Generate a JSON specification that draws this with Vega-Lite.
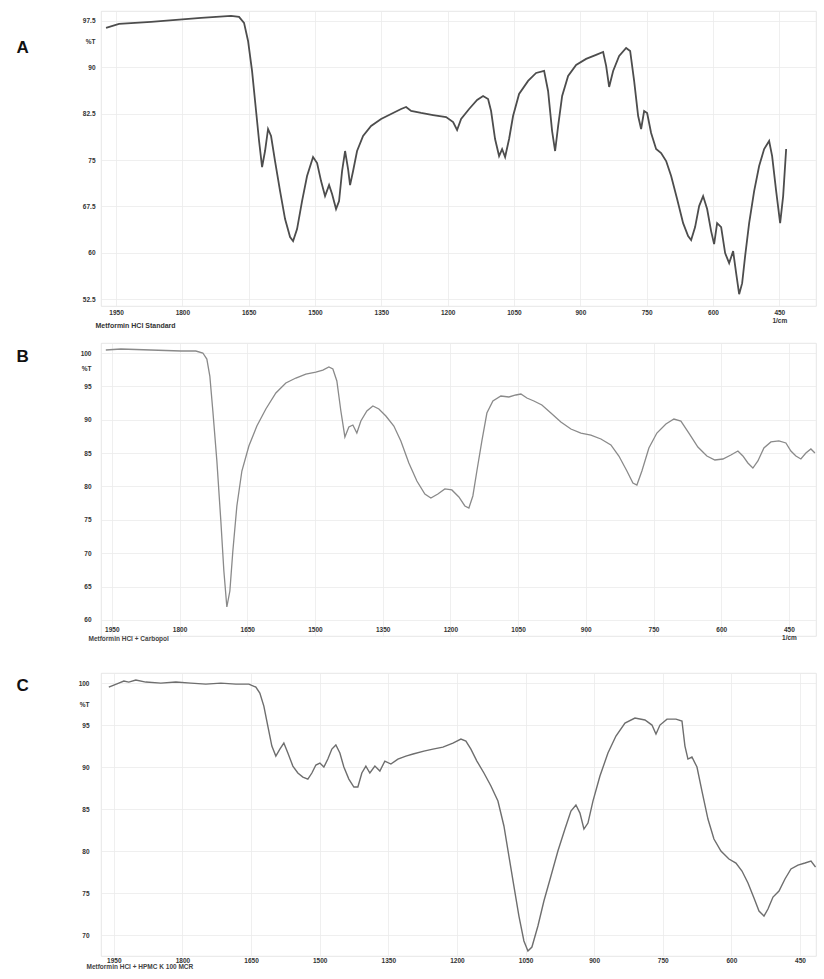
{
  "$schema": "https://vega.github.io/schema/vega-lite/v6.json",
  "background": "white",
  "padding": {"left": 15, "top": 10, "right": 5, "bottom": 5},
  "bounds": "flush",
  "spacing": 37,
  "config": {
    "font": "Liberation Sans",
    "view": {"stroke": "#e0e0e0", "strokeWidth": 0.8},
    "axis": {
      "ticks": false,
      "domain": false,
      "gridColor": "#ebebeb",
      "gridWidth": 0.8,
      "labelFontSize": 6.5,
      "labelColor": "#333333",
      "labelFontWeight": "bold"
    }
  },
  "datasets": {
    "a": [
      {"wn": 1972.6, "t": 96.37}, {"wn": 1943.2, "t": 97.01}, {"wn": 1870.8, "t": 97.34}, {"wn": 1757.7, "t": 97.99},
      {"wn": 1689.9, "t": 98.31}, {"wn": 1671.8, "t": 98.15}, {"wn": 1660.5, "t": 97.18}, {"wn": 1651.4, "t": 94.26},
      {"wn": 1642.4, "t": 89.41}, {"wn": 1633.3, "t": 82.93}, {"wn": 1626.5, "t": 78.08}, {"wn": 1619.7, "t": 73.87},
      {"wn": 1613.0, "t": 76.46}, {"wn": 1606.2, "t": 80.02}, {"wn": 1599.4, "t": 78.89}, {"wn": 1590.4, "t": 74.84},
      {"wn": 1579.0, "t": 69.98}, {"wn": 1567.7, "t": 65.45}, {"wn": 1556.4, "t": 62.54}, {"wn": 1549.6, "t": 61.89},
      {"wn": 1540.6, "t": 63.83}, {"wn": 1529.3, "t": 68.36}, {"wn": 1518.0, "t": 72.41}, {"wn": 1504.4, "t": 75.49},
      {"wn": 1495.3, "t": 74.52}, {"wn": 1486.3, "t": 71.6}, {"wn": 1477.3, "t": 69.17}, {"wn": 1468.2, "t": 70.95},
      {"wn": 1461.4, "t": 69.5}, {"wn": 1452.4, "t": 67.07}, {"wn": 1445.6, "t": 68.36}, {"wn": 1438.8, "t": 73.22},
      {"wn": 1432.0, "t": 76.46}, {"wn": 1425.2, "t": 73.54}, {"wn": 1420.7, "t": 70.95}, {"wn": 1413.9, "t": 73.22},
      {"wn": 1404.9, "t": 76.46}, {"wn": 1391.3, "t": 78.89}, {"wn": 1373.2, "t": 80.5}, {"wn": 1350.6, "t": 81.64},
      {"wn": 1328.0, "t": 82.45}, {"wn": 1305.3, "t": 83.26}, {"wn": 1294.0, "t": 83.58}, {"wn": 1282.7, "t": 82.93},
      {"wn": 1260.1, "t": 82.61}, {"wn": 1232.9, "t": 82.28}, {"wn": 1203.5, "t": 81.96}, {"wn": 1187.7, "t": 81.15},
      {"wn": 1178.7, "t": 79.86}, {"wn": 1169.6, "t": 81.64}, {"wn": 1151.5, "t": 83.26}, {"wn": 1133.4, "t": 84.71},
      {"wn": 1119.9, "t": 85.36}, {"wn": 1108.6, "t": 84.87}, {"wn": 1101.8, "t": 82.93}, {"wn": 1092.8, "t": 78.4},
      {"wn": 1083.7, "t": 75.65}, {"wn": 1076.9, "t": 76.78}, {"wn": 1070.1, "t": 75.49}, {"wn": 1061.1, "t": 78.4},
      {"wn": 1052.1, "t": 82.12}, {"wn": 1038.5, "t": 85.68}, {"wn": 1018.1, "t": 87.79}, {"wn": 1000.0, "t": 89.08},
      {"wn": 981.9, "t": 89.41}, {"wn": 972.9, "t": 86.17}, {"wn": 963.8, "t": 79.69}, {"wn": 957.0, "t": 76.46},
      {"wn": 950.2, "t": 80.5}, {"wn": 941.1, "t": 85.36}, {"wn": 927.6, "t": 88.6}, {"wn": 909.5, "t": 90.38},
      {"wn": 886.9, "t": 91.35}, {"wn": 864.3, "t": 92.0}, {"wn": 848.4, "t": 92.48}, {"wn": 841.6, "t": 90.22},
      {"wn": 834.8, "t": 86.82}, {"wn": 825.8, "t": 89.41}, {"wn": 812.2, "t": 91.83}, {"wn": 796.4, "t": 93.13},
      {"wn": 787.3, "t": 92.64}, {"wn": 778.3, "t": 87.79}, {"wn": 769.2, "t": 82.12}, {"wn": 762.5, "t": 80.02},
      {"wn": 755.7, "t": 82.93}, {"wn": 748.9, "t": 82.61}, {"wn": 739.9, "t": 79.37}, {"wn": 728.6, "t": 76.78},
      {"wn": 717.3, "t": 76.14}, {"wn": 705.9, "t": 74.84}, {"wn": 694.6, "t": 72.41}, {"wn": 681.1, "t": 68.69},
      {"wn": 667.5, "t": 64.8}, {"wn": 656.2, "t": 62.7}, {"wn": 649.4, "t": 62.05}, {"wn": 640.4, "t": 64.16},
      {"wn": 631.3, "t": 67.55}, {"wn": 622.3, "t": 69.17}, {"wn": 613.2, "t": 67.07}, {"wn": 604.2, "t": 63.51},
      {"wn": 597.4, "t": 61.4}, {"wn": 590.6, "t": 64.8}, {"wn": 581.5, "t": 64.16}, {"wn": 572.5, "t": 59.95},
      {"wn": 563.4, "t": 58.33}, {"wn": 554.4, "t": 60.27}, {"wn": 547.6, "t": 56.71}, {"wn": 540.8, "t": 53.31},
      {"wn": 534.0, "t": 55.09}, {"wn": 527.3, "t": 59.46}, {"wn": 518.2, "t": 64.8}, {"wn": 506.9, "t": 69.98},
      {"wn": 495.6, "t": 74.03}, {"wn": 484.3, "t": 76.78}, {"wn": 473.0, "t": 78.08}, {"wn": 466.2, "t": 75.65},
      {"wn": 457.1, "t": 69.98}, {"wn": 448.1, "t": 64.8}, {"wn": 441.3, "t": 69.17}, {"wn": 434.5, "t": 76.78}
    ],
    "b": [
      {"wn": 1963.3, "t": 100.45}, {"wn": 1930.1, "t": 100.6}, {"wn": 1863.6, "t": 100.45}, {"wn": 1797.1, "t": 100.3},
      {"wn": 1763.9, "t": 100.3}, {"wn": 1748.4, "t": 100.0}, {"wn": 1739.5, "t": 99.1}, {"wn": 1732.9, "t": 96.55},
      {"wn": 1726.2, "t": 91.31}, {"wn": 1717.3, "t": 83.82}, {"wn": 1708.5, "t": 74.83}, {"wn": 1701.8, "t": 67.34},
      {"wn": 1695.2, "t": 61.95}, {"wn": 1688.5, "t": 64.34}, {"wn": 1681.9, "t": 70.34}, {"wn": 1673.0, "t": 77.08},
      {"wn": 1661.9, "t": 82.32}, {"wn": 1646.4, "t": 86.07}, {"wn": 1628.7, "t": 89.06}, {"wn": 1608.8, "t": 91.61},
      {"wn": 1586.6, "t": 94.01}, {"wn": 1564.5, "t": 95.51}, {"wn": 1542.3, "t": 96.25}, {"wn": 1520.2, "t": 96.85},
      {"wn": 1498.0, "t": 97.15}, {"wn": 1482.5, "t": 97.45}, {"wn": 1469.2, "t": 97.9}, {"wn": 1460.3, "t": 97.6},
      {"wn": 1451.5, "t": 95.81}, {"wn": 1442.6, "t": 91.31}, {"wn": 1433.7, "t": 87.42}, {"wn": 1424.9, "t": 88.91},
      {"wn": 1416.0, "t": 89.21}, {"wn": 1407.2, "t": 88.01}, {"wn": 1398.3, "t": 89.81}, {"wn": 1385.0, "t": 91.31},
      {"wn": 1371.7, "t": 92.06}, {"wn": 1358.4, "t": 91.61}, {"wn": 1342.9, "t": 90.56}, {"wn": 1325.2, "t": 89.06},
      {"wn": 1309.7, "t": 86.82}, {"wn": 1292.0, "t": 83.52}, {"wn": 1274.2, "t": 80.82}, {"wn": 1256.5, "t": 78.88},
      {"wn": 1243.2, "t": 78.28}, {"wn": 1227.7, "t": 78.88}, {"wn": 1212.2, "t": 79.63}, {"wn": 1196.7, "t": 79.48},
      {"wn": 1181.2, "t": 78.43}, {"wn": 1167.9, "t": 77.08}, {"wn": 1159.0, "t": 76.78}, {"wn": 1150.2, "t": 78.58},
      {"wn": 1141.3, "t": 82.32}, {"wn": 1130.2, "t": 86.82}, {"wn": 1119.1, "t": 91.01}, {"wn": 1105.8, "t": 92.81},
      {"wn": 1088.1, "t": 93.56}, {"wn": 1070.4, "t": 93.41}, {"wn": 1054.9, "t": 93.71}, {"wn": 1043.8, "t": 93.86},
      {"wn": 1030.5, "t": 93.26}, {"wn": 1015.0, "t": 92.81}, {"wn": 997.3, "t": 92.21}, {"wn": 977.3, "t": 91.01},
      {"wn": 955.2, "t": 89.66}, {"wn": 933.0, "t": 88.61}, {"wn": 910.8, "t": 88.01}, {"wn": 888.7, "t": 87.71},
      {"wn": 866.5, "t": 87.12}, {"wn": 844.4, "t": 86.22}, {"wn": 826.7, "t": 84.57}, {"wn": 808.9, "t": 82.32},
      {"wn": 795.6, "t": 80.52}, {"wn": 786.8, "t": 80.22}, {"wn": 775.7, "t": 82.32}, {"wn": 760.2, "t": 85.77},
      {"wn": 742.5, "t": 88.01}, {"wn": 722.5, "t": 89.36}, {"wn": 704.8, "t": 90.11}, {"wn": 689.3, "t": 89.81},
      {"wn": 671.6, "t": 88.01}, {"wn": 651.7, "t": 85.92}, {"wn": 631.7, "t": 84.57}, {"wn": 614.0, "t": 83.97},
      {"wn": 596.3, "t": 84.12}, {"wn": 578.6, "t": 84.72}, {"wn": 563.0, "t": 85.32}, {"wn": 552.0, "t": 84.57},
      {"wn": 540.9, "t": 83.52}, {"wn": 529.8, "t": 82.77}, {"wn": 518.7, "t": 83.82}, {"wn": 505.4, "t": 85.77},
      {"wn": 489.9, "t": 86.67}, {"wn": 472.2, "t": 86.82}, {"wn": 456.7, "t": 86.52}, {"wn": 445.6, "t": 85.32},
      {"wn": 434.5, "t": 84.57}, {"wn": 423.5, "t": 84.12}, {"wn": 412.4, "t": 85.02}, {"wn": 401.3, "t": 85.62},
      {"wn": 392.4, "t": 85.02}
    ],
    "c": [
      {"wn": 1960.9, "t": 99.52}, {"wn": 1950.0, "t": 99.76}, {"wn": 1939.1, "t": 100.0}, {"wn": 1928.1, "t": 100.24},
      {"wn": 1917.2, "t": 100.12}, {"wn": 1901.9, "t": 100.36}, {"wn": 1880.0, "t": 100.12}, {"wn": 1847.2, "t": 100.0},
      {"wn": 1814.4, "t": 100.12}, {"wn": 1781.6, "t": 100.0}, {"wn": 1748.8, "t": 99.88}, {"wn": 1716.0, "t": 100.0},
      {"wn": 1683.2, "t": 99.88}, {"wn": 1654.8, "t": 99.88}, {"wn": 1639.5, "t": 99.52}, {"wn": 1630.8, "t": 98.81},
      {"wn": 1622.0, "t": 97.26}, {"wn": 1613.3, "t": 94.88}, {"wn": 1604.5, "t": 92.5}, {"wn": 1595.8, "t": 91.31},
      {"wn": 1587.0, "t": 92.14}, {"wn": 1578.3, "t": 92.86}, {"wn": 1569.5, "t": 91.67}, {"wn": 1558.6, "t": 90.12},
      {"wn": 1547.7, "t": 89.29}, {"wn": 1536.7, "t": 88.81}, {"wn": 1525.8, "t": 88.57}, {"wn": 1517.0, "t": 89.29},
      {"wn": 1508.3, "t": 90.24}, {"wn": 1499.5, "t": 90.48}, {"wn": 1490.8, "t": 90.0}, {"wn": 1482.1, "t": 90.95},
      {"wn": 1473.3, "t": 92.14}, {"wn": 1464.6, "t": 92.62}, {"wn": 1455.8, "t": 91.67}, {"wn": 1447.1, "t": 90.0},
      {"wn": 1436.2, "t": 88.57}, {"wn": 1425.2, "t": 87.62}, {"wn": 1416.5, "t": 87.62}, {"wn": 1407.8, "t": 89.29},
      {"wn": 1399.0, "t": 90.12}, {"wn": 1390.3, "t": 89.29}, {"wn": 1379.3, "t": 90.12}, {"wn": 1368.4, "t": 89.52},
      {"wn": 1357.5, "t": 90.71}, {"wn": 1344.3, "t": 90.36}, {"wn": 1329.0, "t": 90.95}, {"wn": 1311.5, "t": 91.31},
      {"wn": 1295.8, "t": 91.55}, {"wn": 1272.2, "t": 91.9}, {"wn": 1252.5, "t": 92.14}, {"wn": 1230.6, "t": 92.38},
      {"wn": 1208.7, "t": 92.86}, {"wn": 1191.2, "t": 93.33}, {"wn": 1180.3, "t": 93.1}, {"wn": 1169.4, "t": 92.14},
      {"wn": 1156.3, "t": 90.71}, {"wn": 1140.9, "t": 89.29}, {"wn": 1125.6, "t": 87.74}, {"wn": 1110.3, "t": 85.95},
      {"wn": 1097.2, "t": 82.98}, {"wn": 1086.3, "t": 79.4}, {"wn": 1075.4, "t": 75.83}, {"wn": 1064.4, "t": 72.26},
      {"wn": 1053.5, "t": 69.29}, {"wn": 1044.7, "t": 68.1}, {"wn": 1036.0, "t": 68.57}, {"wn": 1022.9, "t": 71.07},
      {"wn": 1009.8, "t": 74.05}, {"wn": 994.4, "t": 77.02}, {"wn": 979.2, "t": 80.0}, {"wn": 963.8, "t": 82.62},
      {"wn": 950.7, "t": 84.76}, {"wn": 939.8, "t": 85.48}, {"wn": 931.0, "t": 84.52}, {"wn": 922.3, "t": 82.62},
      {"wn": 913.5, "t": 83.33}, {"wn": 902.6, "t": 85.95}, {"wn": 887.3, "t": 88.93}, {"wn": 869.8, "t": 91.67},
      {"wn": 852.3, "t": 93.69}, {"wn": 832.6, "t": 95.24}, {"wn": 810.8, "t": 95.83}, {"wn": 788.9, "t": 95.6},
      {"wn": 773.6, "t": 95.0}, {"wn": 764.8, "t": 93.93}, {"wn": 756.1, "t": 95.0}, {"wn": 740.8, "t": 95.71},
      {"wn": 721.1, "t": 95.71}, {"wn": 708.0, "t": 95.48}, {"wn": 701.5, "t": 92.5}, {"wn": 694.9, "t": 90.95},
      {"wn": 686.2, "t": 91.19}, {"wn": 675.2, "t": 90.0}, {"wn": 664.3, "t": 87.14}, {"wn": 651.2, "t": 83.81},
      {"wn": 638.1, "t": 81.43}, {"wn": 622.8, "t": 80.0}, {"wn": 605.3, "t": 79.05}, {"wn": 590.0, "t": 78.57},
      {"wn": 576.8, "t": 77.62}, {"wn": 563.7, "t": 76.19}, {"wn": 550.6, "t": 74.4}, {"wn": 539.6, "t": 72.86},
      {"wn": 528.7, "t": 72.26}, {"wn": 520.0, "t": 73.1}, {"wn": 509.0, "t": 74.52}, {"wn": 495.9, "t": 75.24},
      {"wn": 482.8, "t": 76.67}, {"wn": 469.7, "t": 77.86}, {"wn": 454.4, "t": 78.33}, {"wn": 439.1, "t": 78.57},
      {"wn": 425.9, "t": 78.81}, {"wn": 416.0, "t": 78.1}
    ]
  },
  "vconcat": [
    {
      "width": 715,
      "height": 295,
      "data": {"name": "a"},
      "mark": {"type": "line", "color": "#4d4d4d", "strokeWidth": 1.8, "clip": true},
      "encoding": {
        "x": {
          "field": "wn", "type": "quantitative",
          "scale": {"domain": [367, 1984], "reverse": true, "nice": false, "zero": false},
          "axis": {
            "values": [1950, 1800, 1650, 1500, 1350, 1200, 1050, 900, 750, 600, 450],
            "format": "d",
            "labelExpr": "datum.value === 450 ? ['450', '        1/cm'] : datum.label",
            "labelPadding": 3,
            "title": "Metformin HCl Standard",
            "titleFontSize": 7, "titleFontWeight": "bold", "titleColor": "#333333",
            "titleAnchor": "start", "titleAlign": "left", "titleX": -6, "titlePadding": -3
          }
        },
        "y": {
          "field": "t", "type": "quantitative",
          "scale": {"domain": [51.4, 99.1], "nice": false, "zero": false},
          "axis": {
            "values": [52.5, 60, 67.5, 75, 82.5, 90, 94.1, 97.5],
            "format": ".1~f",
            "labelExpr": "datum.value === 94.1 ? '%T' : datum.label",
            "gridOpacity": {"condition": {"test": "datum.value === 94.1", "value": 0}, "value": 1},
            "labelPadding": 6,
            "title": "A", "titleAngle": 0, "titleAlign": "left", "titleBaseline": "top",
            "titleX": -85, "titleY": 28, "titleFontSize": 17, "titleFontWeight": "bold", "titleColor": "#111111"
          }
        }
      }
    },
    {
      "width": 715,
      "height": 293,
      "data": {"name": "b"},
      "mark": {"type": "line", "color": "#8a8a8a", "strokeWidth": 1.3, "clip": true},
      "encoding": {
        "x": {
          "field": "wn", "type": "quantitative",
          "scale": {"domain": [390, 1974], "reverse": true, "nice": false, "zero": false},
          "axis": {
            "values": [1950, 1800, 1650, 1500, 1350, 1200, 1050, 900, 750, 600, 450],
            "format": "d",
            "labelExpr": "datum.value === 450 ? ['450', '        1/cm'] : datum.label",
            "labelPadding": -10,
            "title": "Metformin HCl + Carbopol",
            "titleFontSize": 6.5, "titleFontWeight": "bold", "titleColor": "#444444",
            "titleAnchor": "start", "titleAlign": "left", "titleX": -13, "titlePadding": -6
          }
        },
        "y": {
          "field": "t", "type": "quantitative",
          "scale": {"domain": [57.6, 101.5], "nice": false, "zero": false},
          "axis": {
            "values": [60, 65, 70, 75, 80, 85, 90, 95, 97.75, 100],
            "labelExpr": "datum.value === 97.75 ? '%T' : datum.label",
            "gridOpacity": {"condition": {"test": "datum.value === 97.75", "value": 0}, "value": 1},
            "labelPadding": 10,
            "title": "B", "titleAngle": 0, "titleAlign": "left", "titleBaseline": "top",
            "titleX": -85, "titleY": 5, "titleFontSize": 17, "titleFontWeight": "bold", "titleColor": "#111111"
          }
        }
      }
    },
    {
      "width": 715,
      "height": 283,
      "data": {"name": "c"},
      "mark": {"type": "line", "color": "#6e6e6e", "strokeWidth": 1.4, "clip": true},
      "encoding": {
        "x": {
          "field": "wn", "type": "quantitative",
          "scale": {"domain": [415, 1978], "reverse": true, "nice": false, "zero": false},
          "axis": {
            "values": [1950, 1800, 1650, 1500, 1350, 1200, 1050, 900, 750, 600, 450],
            "format": "d",
            "labelPadding": 1,
            "title": "Metformin HCl + HPMC K 100 MCR",
            "titleFontSize": 6.5, "titleFontWeight": "bold", "titleColor": "#444444",
            "titleAnchor": "start", "titleAlign": "left", "titleX": -15, "titlePadding": 0
          }
        },
        "y": {
          "field": "t", "type": "quantitative",
          "scale": {"domain": [67.5, 101.2], "nice": false, "zero": false},
          "axis": {
            "values": [70, 75, 80, 85, 90, 95, 97.5, 100],
            "labelExpr": "datum.value === 97.5 ? '%T' : datum.label",
            "gridOpacity": {"condition": {"test": "datum.value === 97.5", "value": 0}, "value": 1},
            "labelPadding": 12,
            "title": "C", "titleAngle": 0, "titleAlign": "left", "titleBaseline": "top",
            "titleX": -85, "titleY": 4, "titleFontSize": 17, "titleFontWeight": "bold", "titleColor": "#111111"
          }
        }
      }
    }
  ]
}
